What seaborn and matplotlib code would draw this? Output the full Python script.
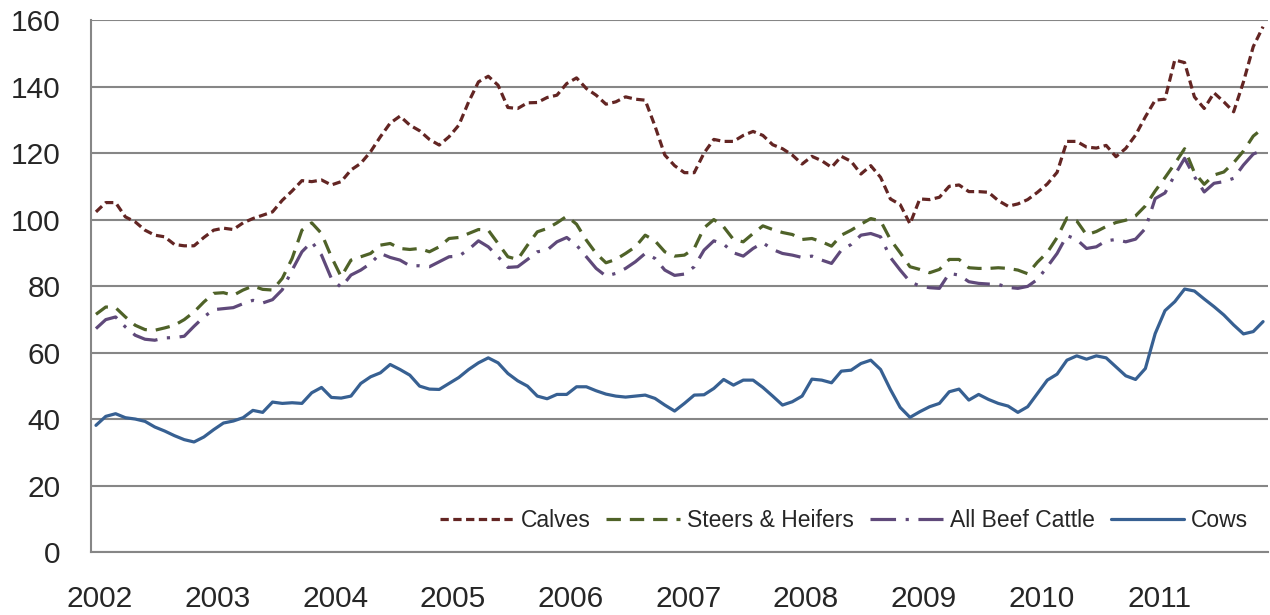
import numpy as np
import pandas as pd
import matplotlib
matplotlib.use("Agg")
import matplotlib.pyplot as plt
import seaborn as sns

# Monthly prices, Jan 2002 - Dec 2011
years = ["2002", "2003", "2004", "2005", "2006", "2007", "2008", "2009", "2010", "2011"]

calves = [102.3, 105.1, 105.1, 100.8, 99.3, 96.8, 95.3, 94.8, 92.5, 92.1, 92.1, 94.6,
          96.8, 97.4, 97.0, 99.0, 100.3, 101.3, 102.3, 105.8, 108.6, 111.7, 111.4, 111.9,
          110.4, 111.4, 114.9, 116.9, 120.4, 124.9, 129.0, 131.1, 128.4, 126.7, 124.1, 122.4,
          124.9, 128.4, 135.4, 141.4, 143.1, 140.4, 133.7, 133.4, 135.1, 135.2, 136.7, 137.4,
          140.9, 142.6, 139.4, 137.4, 134.7, 135.4, 136.9, 136.2, 135.9, 128.1, 119.4, 116.2,
          114.1, 114.1, 120.0, 124.1, 123.5, 123.5, 125.3, 126.5, 125.3, 122.5, 121.3, 119.4,
          116.7, 119.0, 117.7, 115.7, 119.0, 117.5, 113.7, 116.2, 112.7, 106.2, 104.5, 98.7,
          106.2, 106.0, 106.7, 110.0, 110.4, 108.4, 108.4, 108.2, 105.7, 104.0, 104.7, 106.0,
          108.2, 110.7, 114.2, 123.5, 123.5, 121.8, 121.5, 122.3, 118.9, 121.4, 125.4, 130.9,
          135.9, 136.2, 148.0, 147.2, 136.9, 133.4, 138.1, 135.4, 132.4, 141.4, 152.0, 158.0]

steers = [71.5, 73.7, 73.5, 70.7, 68.2, 66.9, 66.7, 67.4, 68.2, 69.9, 72.2, 75.2,
          77.8, 78.0, 77.2, 78.8, 80.0, 79.0, 78.8, 82.3, 88.3, 96.8, 99.0, 95.8,
          88.8, 82.8, 87.8, 88.8, 89.8, 92.3, 92.8, 91.3, 91.0, 91.3, 90.3, 91.8,
          94.3, 94.6, 95.8, 97.0, 96.8, 92.8, 88.8, 88.0, 92.3, 96.3, 97.3, 99.0,
          101.0, 98.6, 93.8, 89.8, 87.0, 88.0, 89.8, 91.8, 95.3, 93.6, 90.3, 89.0,
          89.3, 91.3, 97.5, 100.0, 97.8, 94.0, 93.3, 95.8, 98.1, 97.0, 96.1, 95.5,
          94.0, 94.3, 93.3, 92.0, 95.3, 96.8, 98.6, 100.3, 99.6, 94.0, 90.0, 85.8,
          85.0, 84.0, 85.0, 88.0, 88.0, 85.5, 85.3, 85.3, 85.5, 85.3, 84.8, 83.7,
          87.2, 90.1, 94.6, 100.5, 99.6, 95.4, 96.4, 97.9, 99.1, 99.8, 101.1, 104.1,
          108.6, 112.6, 116.8, 121.3, 114.1, 110.6, 113.4, 114.3, 117.1, 120.6, 125.1, 127.5]

beef = [67.2, 69.9, 70.7, 67.7, 65.2, 64.0, 63.7, 64.4, 64.5, 64.9, 67.9, 70.7,
        72.9, 73.2, 73.5, 74.7, 75.7, 74.9, 75.9, 78.9, 84.8, 90.3, 93.3, 89.3,
        82.3, 79.6, 83.3, 84.8, 86.8, 89.8, 88.6, 87.8, 86.1, 86.1, 85.8, 87.3,
        88.8, 89.0, 91.0, 93.6, 91.8, 88.8, 85.6, 85.8, 88.0, 90.3, 90.8, 93.3,
        94.6, 92.3, 88.8, 85.3, 83.0, 83.8, 85.3, 87.3, 89.8, 88.3, 84.8, 83.2,
        83.6, 85.8, 90.8, 93.6, 92.6, 90.0, 89.0, 91.3, 93.0, 91.0, 89.8, 89.3,
        88.6, 89.0, 87.8, 86.8, 90.8, 92.5, 95.3, 95.8, 94.8, 88.6, 84.8, 81.3,
        80.0, 79.5, 79.3, 83.8, 83.3, 81.3, 80.8, 80.6, 80.5, 79.6, 79.3, 79.9,
        82.0, 85.8, 89.8, 95.2, 94.0, 91.3, 91.8, 93.6, 94.0, 93.3, 94.1, 97.3,
        106.3, 108.0, 113.4, 118.4, 112.9, 108.3, 110.9, 111.4, 112.4, 116.4, 119.7, 120.9]

cows = [38.1, 40.8, 41.6, 40.4, 40.0, 39.3, 37.6, 36.4, 35.0, 33.8, 33.1, 34.6,
        36.8, 38.8, 39.4, 40.4, 42.6, 42.0, 45.1, 44.7, 44.9, 44.7, 47.9, 49.5,
        46.5, 46.3, 46.9, 50.7, 52.7, 53.9, 56.4, 54.9, 53.2, 49.9, 49.0, 48.9,
        50.7, 52.5, 54.9, 56.9, 58.4, 56.9, 53.7, 51.5, 49.9, 46.9, 46.1, 47.4,
        47.4, 49.7, 49.7, 48.5, 47.5, 46.9, 46.6, 46.9, 47.2, 46.2, 44.2, 42.4,
        44.7, 47.2, 47.3, 49.2, 51.9, 50.2, 51.7, 51.7, 49.5, 46.9, 44.2, 45.2,
        46.9, 52.0, 51.7, 50.9, 54.4, 54.7, 56.7, 57.7, 54.9, 48.9, 43.5, 40.5,
        42.2, 43.7, 44.7, 48.2, 49.0, 45.7, 47.4, 45.9, 44.7, 43.9, 42.0, 43.7,
        47.7, 51.7, 53.5, 57.7, 59.0, 58.0, 59.0, 58.4, 55.7, 53.0, 51.9, 55.2,
        65.7, 72.6, 75.3, 79.1, 78.5, 76.1, 73.8, 71.3, 68.3, 65.6, 66.3, 69.3]

series_names = ["Calves", "Steers & Heifers", "All Beef Cattle", "Cows"]
colors = {"Calves": "#632523", "Steers & Heifers": "#4F6228",
          "All Beef Cattle": "#5F497A", "Cows": "#376092"}
dashes = {"Calves": (2.6, 1.4), "Steers & Heifers": (4.5, 2.8),
          "All Beef Cattle": (8, 3, 1, 3), "Cows": ""}

month = np.arange(len(cows))
df = pd.DataFrame({"month": month, "Calves": calves, "Steers & Heifers": steers,
                   "All Beef Cattle": beef, "Cows": cows})
df = df.melt(id_vars="month", var_name="series", value_name="value")

sns.set_style("white")
plt.rcParams["font.family"] = ["Liberation Sans", "DejaVu Sans"]

fig = plt.figure(figsize=(12.7, 6.15), dpi=100)
ax = fig.add_axes([0.0717, 0.1024, 0.9267, 0.8650])

sns.lineplot(data=df, x="month", y="value", hue="series", style="series",
             hue_order=series_names, style_order=series_names,
             palette=colors, dashes=dashes, linewidth=2.3, ax=ax)

grey = "#868686"
ax.set_xlim(-0.5, len(cows) - 0.5)
ax.set_ylim(0, 160)
ax.set_yticks(range(0, 161, 20))
ax.grid(axis="y", color=grey, linewidth=1.5)
ax.grid(axis="x", visible=False)
ax.set_axisbelow(True)

# year tick marks between categories, labels at each January
ax.set_xticks(np.arange(0, len(cows) + 1, 12) - 0.5)
ax.set_xticklabels([])
ax.set_xticks(np.arange(0, len(cows), 12) + 0.4, minor=True)
ax.set_xticklabels(years, minor=True)
ax.tick_params(axis="x", which="major", direction="out", length=8, width=1.5, color=grey)
ax.tick_params(axis="x", which="minor", length=0, pad=24, labelsize=21.5)
ax.tick_params(axis="y", direction="out", length=8, width=1.5, color=grey, pad=14, labelsize=21.5)

for side in ["top", "right"]:
    ax.spines[side].set_visible(False)
for side in ["left", "bottom"]:
    ax.spines[side].set_color(grey)
    ax.spines[side].set_linewidth(1.5)

ax.set_xlabel("")
ax.set_ylabel("")

leg = ax.legend(loc="center right", bbox_to_anchor=(0.983, 0.06), ncol=4, frameon=False,
                fontsize=16.5, handlelength=3.2, handletextpad=0.3, columnspacing=0.7,
                borderpad=0, borderaxespad=0)
for line in leg.get_lines():
    line.set_linewidth(2.3)

fig.savefig("out.png", dpi=100)
